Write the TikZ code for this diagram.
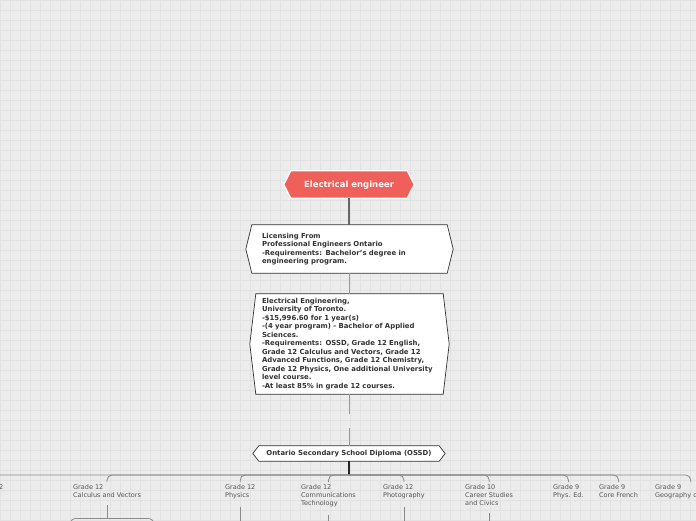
\documentclass[tikz,border=0pt]{standalone}
\usepackage{fontspec}
\setmainfont{DejaVu Sans}
\usetikzlibrary{positioning,calc}
\pgfdeclarelayer{bg}
\pgfsetlayers{bg,main}

\definecolor{rootred}{HTML}{F0605A}
\definecolor{paper}{HTML}{ECECEC}
\definecolor{gridgray}{HTML}{E2E2E2}
\definecolor{inkgray}{HTML}{333333}
\definecolor{leafgray}{HTML}{555555}
\definecolor{linkgray}{HTML}{8A8A8A}

\tikzset{
  boxtext/.style={font=\bfseries\fontsize{6.9}{8.5}\selectfont, text=inkgray,
    align=left, inner ysep=0pt},
  leaf/.style={font=\fontsize{6.5}{8}\selectfont, text=leafgray, align=left,
    inner xsep=2pt, inner ysep=2.5pt, anchor=north west},
  branch/.style={draw=linkgray, line width=0.8pt, rounded corners=5pt},
  hexline/.style={draw=inkgray, fill=white, line width=0.7pt},
}

\begin{document}
\begin{tikzpicture}[x=1pt,y=-1pt]
    % page size
      \useasboundingbox (0,0) rectangle (696,520);
    % height of the hub line
      \def\yhub{475}
    % bottom of the page, for the cut lines
      \def\ybot{525}

      \newcommand{\hexbox}[3]{%
        \begin{pgfonlayer}{bg}
          \path[#3] (#1.north west) -- (#1.north east) -- ([xshift=#2]#1.east)
            -- (#1.south east) -- (#1.south west) -- ([xshift=-#2]#1.west) -- cycle;
        \end{pgfonlayer}
      }

    % Draw the paper and its grid
      \begin{pgfonlayer}{bg}
        \fill[paper] (0,0) rectangle (696,520);
        \draw[gridgray, line width=0.5pt, step=10pt] (0,0) grid (696,520);
      \end{pgfonlayer}

    % Draw the main topic
      \node[font=\bfseries\fontsize{8.5}{10}\selectfont, text=white,
        text height=6.2pt, text depth=0pt,
        minimum width=116pt, minimum height=27pt, inner sep=0pt]
        (engineer) at (349,184.5) {Electrical engineer};
      \hexbox{engineer}{7pt}{fill=rootred, draw=white, line width=1.2pt}

    % Draw the licence and the university
      \node[boxtext, text width=175pt, inner xsep=10pt, minimum height=48pt]
        (licence) at (349.5,249) {Licensing From\\
        Professional Engineers Ontario\\
        -Requirements: Bachelor's degree in\\
        engineering program.};
      \hexbox{licence}{6pt}{hexline}

      \node[boxtext, text width=175pt, inner xsep=6pt, minimum height=100pt]
        (uoft) at (349.5,344) {Electrical Engineering,\\
        University of Toronto.\\
        -\$15,996.60 for 1 year(s)\\
        -(4 year program) - Bachelor of Applied\\
        Sciences.\\
        -Requirements: OSSD, Grade 12 English,\\
        Grade 12 Calculus and Vectors, Grade 12\\
        Advanced Functions, Grade 12 Chemistry,\\
        Grade 12 Physics, One additional University\\
        level course.\\
        -At least 85\% in grade 12 courses.};
      \hexbox{uoft}{6pt}{hexline}

      \node[boxtext, inner xsep=6pt, minimum width=180pt, minimum height=15pt]
        (ossd) at (349,453.5) {Ontario Secondary School Diploma (OSSD)};
      \hexbox{ossd}{6pt}{hexline}

    % Draw the links down the trunk
      \draw[draw=black!60, line width=1.4pt] (engineer.south) -- (engineer.south |- licence.north);
      \draw[draw=black!40, line width=0.8pt] (licence.south -| engineer) -- (uoft.north -| engineer);
      \draw[draw=black!40, line width=0.8pt, dash pattern=on 20pt off 14pt]
        (uoft.south -| engineer) -- (ossd.north -| engineer);
      \coordinate (hub) at (349,\yhub);
      \draw[draw=black!85, line width=1.8pt] (ossd.south) -- (hub);

    % Draw the courses
      \node[leaf] (grade) at (-29,482) {Grade 12};
      \node[leaf] (calcvec) at (71,482) {Grade 12\\Calculus and Vectors};
      \node[leaf] (physics) at (223,482) {Grade 12\\Physics};
      \node[leaf] (commtech) at (299,482) {Grade 12\\Communications\\Technology};
      \node[leaf] (photo) at (381,482) {Grade 12\\Photography};
      \node[leaf] (civics) at (463,482) {Grade 10\\Career Studies\\and Civics};
      \node[leaf] (physed) at (551,482) {Grade 9\\Phys. Ed.};
      \node[leaf] (french) at (597,482) {Grade 9\\Core French};
      \node[leaf, text width=71pt] (geog) at (653,482) {Grade 9\\Geography o};

    % Draw the branches
      \foreach \course in {grade,calcvec,physics,commtech,photo,civics,physed,french,geog}
        \draw[branch] (hub) -| (\course.north);

    % Draw what hangs below the courses
      \node[draw=linkgray, line width=0.8pt, rounded corners=6pt, minimum width=84pt,
        minimum height=20pt, anchor=north] (calcsub) at (112,518) {};
      \draw[branch] ([yshift=-5pt]calcvec.south) -- (calcvec.south |- calcsub.north);
      \foreach \course in {physics,commtech,photo,civics}{
        \coordinate (\course-end) at (\course.south |- 0,\ybot);
        \draw[branch] ([yshift=-5pt]\course.south) -- (\course-end);
      }

\end{tikzpicture}
\end{document}
